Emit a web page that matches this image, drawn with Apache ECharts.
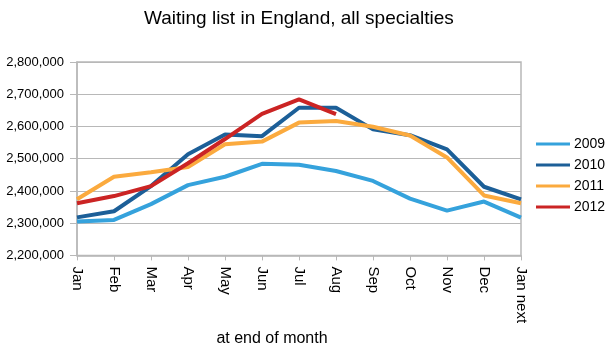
<!DOCTYPE html>
<html>
<head>
<meta charset="utf-8">
<script src="https://cdn.jsdelivr.net/npm/echarts@6/dist/echarts.min.js"></script>
<style>
  html, body { margin: 0; padding: 0; background: #fff; }
  #chart { width: 609px; height: 352px; }
</style>
</head>
<body>
<div id="chart"></div>
<script>
// months along the x axis
var months = ['Jan', 'Feb', 'Mar', 'Apr', 'May', 'Jun', 'Jul', 'Aug', 'Sep', 'Oct', 'Nov', 'Dec', 'Jan next'];

// waiting list size at end of month
var y2009 = [2305000, 2310000, 2359000, 2418000, 2444000, 2484000, 2481000, 2462000, 2431000, 2376000, 2339000, 2367000, 2317000];
var y2010 = [2318000, 2337000, 2415000, 2514000, 2575000, 2570000, 2658000, 2658000, 2591000, 2573000, 2529000, 2413000, 2374000];
var y2011 = [2374000, 2444000, 2458000, 2474000, 2545000, 2553000, 2612000, 2617000, 2599000, 2572000, 2504000, 2386000, 2362000];
var y2012 = [2362000, 2384000, 2415000, 2486000, 2561000, 2639000, 2684000, 2638000];

var years = ['2009', '2010', '2011', '2012'];
var colors = ['#35a2dc', '#1c5f98', '#fbaa3e', '#cb2424'];

var font = '"Liberation Sans", Arial, sans-serif';
var gridCol = '#b8b8b8';

var chart = echarts.init(document.getElementById('chart'));

function line(name, data, i) {
    return {
        name: name,
        type: 'line',
        data: data,
        symbol: 'none',
        smooth: false,
        lineStyle: { width: 4, color: colors[i] },
        itemStyle: { color: colors[i] }
    };
}

var option = {
    animation: false,
    textStyle: { fontFamily: font },
    title: {
        text: 'Waiting list in England, all specialties',
        left: 139,
        top: 4,
        textStyle: { fontFamily: font, fontSize: 19, fontWeight: 'normal', color: '#000' }
    },
    legend: {
        orient: 'vertical',
        left: 531,
        top: 132,
        icon: 'rect',
        itemWidth: 34,
        itemHeight: 3,
        itemGap: 7,
        data: years,
        textStyle: { fontFamily: font, fontSize: 14, color: '#000', padding: [0, 0, 0, -1] }
    },
    grid: {
        left: 77,
        right: 88,
        top: 62,
        bottom: 86,
        show: true,
        borderColor: gridCol,
        borderWidth: 1.5
    },
    xAxis: {
        type: 'category',
        data: months,
        boundaryGap: false,
        axisLine: { lineStyle: { color: gridCol, width: 1.5 } },
        axisTick: { show: true, length: 5, alignWithLabel: true, lineStyle: { color: gridCol } },
        axisLabel: { rotate: -90, margin: 11, fontSize: 15, color: '#000', fontFamily: font, interval: 0 },
        splitLine: { show: false },
        name: 'at end of month',
        nameLocation: 'middle',
        nameGap: 58,
        nameTextStyle: { fontSize: 16, color: '#000', fontFamily: font, padding: [0, 54, 0, 0] }
    },
    yAxis: {
        type: 'value',
        min: 2200000,
        max: 2800000,
        interval: 100000,
        axisLine: { show: true, lineStyle: { color: gridCol, width: 1.5 } },
        axisTick: { show: true, length: 7, lineStyle: { color: gridCol } },
        axisLabel: {
            margin: 13,
            fontSize: 13,
            color: '#000',
            fontFamily: font,
            formatter: function (v) { return v.toLocaleString('en-US'); }
        },
        splitLine: { lineStyle: { color: gridCol, width: 1 } }
    },
    series: [
        line(years[0], y2009, 0),
        line(years[1], y2010, 1),
        line(years[2], y2011, 2),
        line(years[3], y2012, 3)
    ]
};

chart.setOption(option);
</script>
</body>
</html>
